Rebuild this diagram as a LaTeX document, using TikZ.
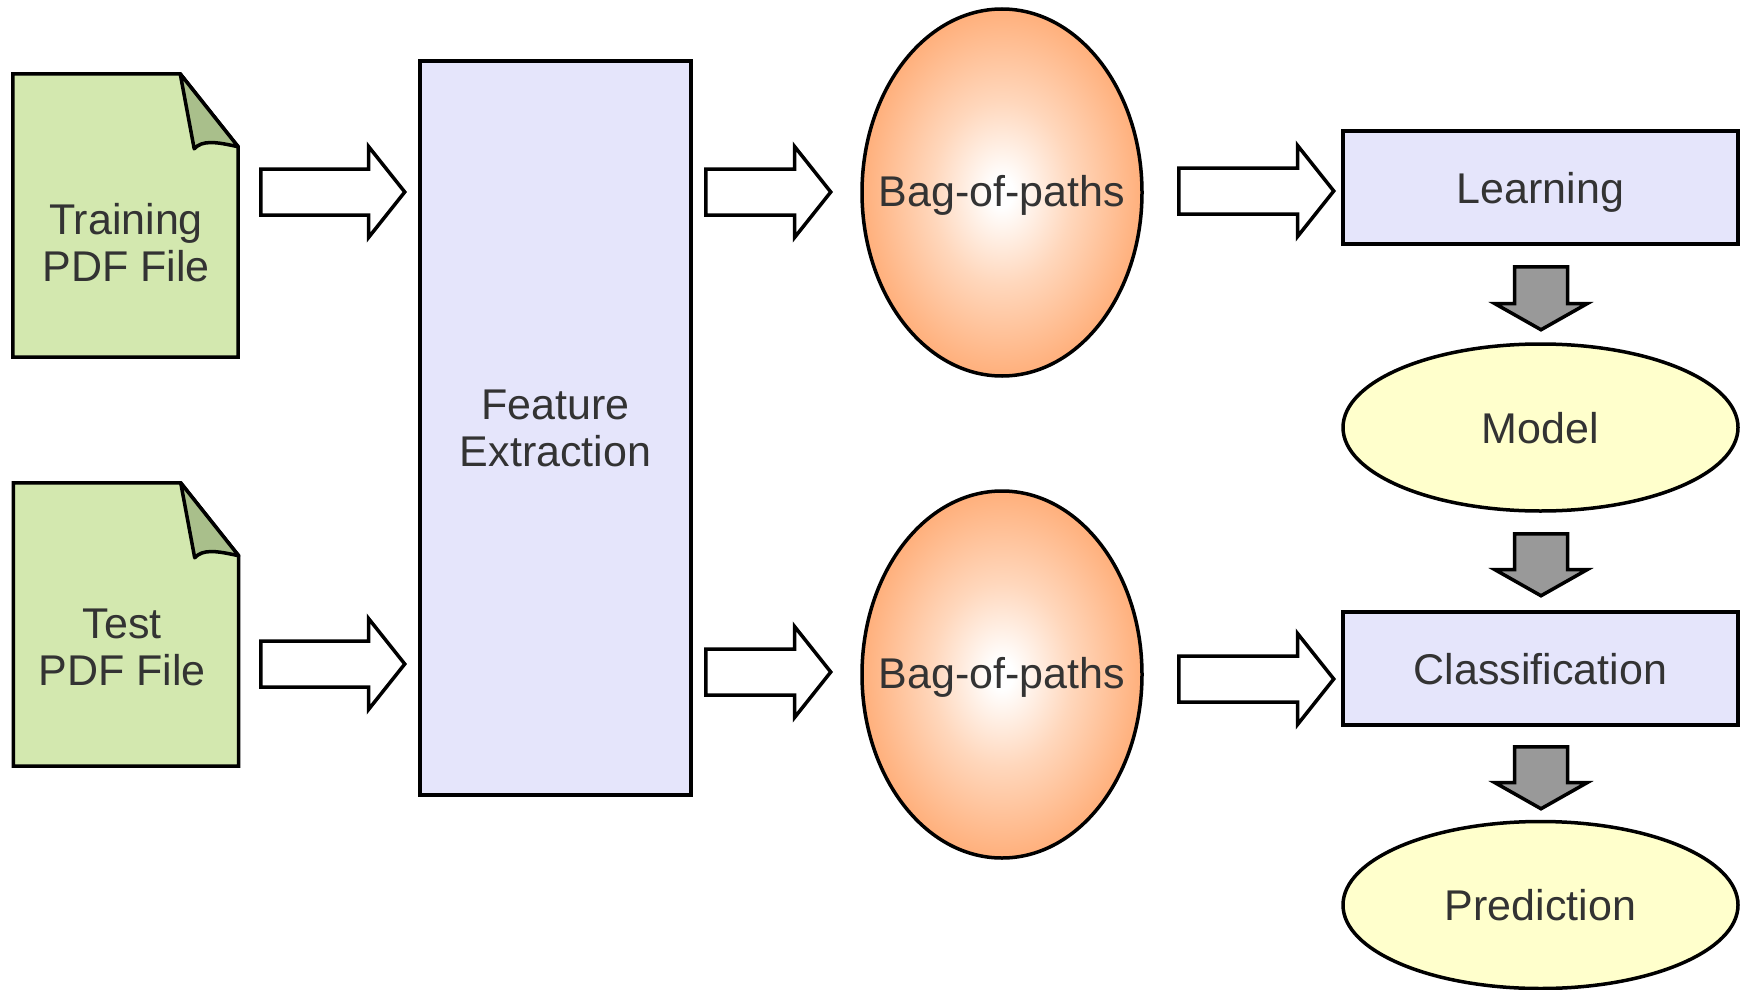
\documentclass[tikz,border=0pt]{standalone}
\usepackage{fontspec}
\setmainfont{Liberation Sans}
\usetikzlibrary{shapes.geometric,shapes.arrows,calc}
\definecolor{docgreen}{HTML}{D3E8AF}
\definecolor{foldgreen}{HTML}{A9BF8B}
\definecolor{lav}{HTML}{E5E5FB}
\definecolor{bagorange}{HTML}{FFA66C}
\definecolor{bagmid}{HTML}{FFD7BC}
\definecolor{modelyellow}{HTML}{FFFFCC}
\definecolor{arrowgray}{HTML}{999999}
\definecolor{txt}{HTML}{333333}
\pgfdeclareradialshading{bagshade}{\pgfpoint{0bp}{0bp}}{color(0bp)=(white); color(2bp)=(white); color(12.5bp)=(bagmid); color(28bp)=(bagorange); color(50bp)=(bagorange)}
\tikzset{
  lbl/.style={text=txt, font=\fontsize{43}{47}\selectfont, align=center, inner sep=0pt},
  caps/.style={text height=31pt, text depth=0pt},
  bagcaps/.style={text height=27pt, text depth=0pt},
  outl/.style={draw=black, line width=3.5pt},
  docbox/.style={rectangle, minimum width=225pt, minimum height=283pt, inner sep=0pt},
  rectbox/.style={rectangle, outl, fill=lav, inner sep=0pt, text=txt, font=\fontsize{43}{47}\selectfont, align=center},
  bagnode/.style={ellipse, outl, shading=bagshade, minimum width=280pt, minimum height=367pt, inner sep=0pt},
  resnode/.style={ellipse, outl, fill=modelyellow, minimum width=395pt, minimum height=167pt, inner sep=0pt},
  harrow/.style={single arrow, outl, fill=white, anchor=tail, inner sep=0pt, text height=42.5pt, text depth=0pt, text width=0pt, minimum height=#1, minimum width=87.5pt, single arrow head extend=22.5pt, single arrow tip angle=103, line join=miter},
  garrow/.style={single arrow, outl, fill=arrowgray, anchor=tail, rotate=-90, inner sep=0pt, text height=49.5pt, text depth=0pt, text width=0pt, minimum height=#1, minimum width=88.5pt, single arrow head extend=19.5pt, single arrow tip angle=121, line join=miter},
}
\begin{document}
\begin{tikzpicture}[x=1pt,y=-1pt]
\useasboundingbox (0,0) rectangle (1745,990);
% documents
\node[docbox] (train) at (125.5,215.5) {};
\node[docbox] (test) at (126,624.5) {};
\foreach \d in {train,test}{
  \filldraw[outl, fill=docgreen, line join=miter]
    (\d.south west) -- (\d.north west) -- ($(\d.north east)+(-58,0)$)
    -- ($(\d.north east)+(0,73)$) -- (\d.south east) -- cycle;
  \filldraw[outl, fill=foldgreen, line join=round]
    ($(\d.north east)+(-58,0)$) -- ($(\d.north east)+(-44,75)$)
    .. controls ($(\d.north east)+(-36,66)$) and ($(\d.north east)+(-22,68)$) .. ($(\d.north east)+(0,73)$) -- cycle;
}
\node[lbl] (trainlbl) at (126,243) {Training\\PDF File};
\node[lbl] (testlbl) at (122,647) {Test\\PDF File};
% feature extraction
\node[rectbox, minimum width=271pt, minimum height=734pt] (fe) at (555.5,428) {Feature\\Extraction};
% bags
\node[bagnode, label={[lbl,bagcaps]center:Bag-of-paths}] (bag1) at (1002,192.5) {};
\node[bagnode, label={[lbl,bagcaps]center:Bag-of-paths}] (bag2) at (1002,674.5) {};
% right column
\node[rectbox, caps, minimum width=395pt, minimum height=113pt] (learn) at (1540.5,187.5) {Learning};
\node[resnode, label={[lbl,caps]center:Model}] (model) at (1540.5,427.5) {};
\node[rectbox, caps, minimum width=395pt, minimum height=113pt] (classif) at (1540.5,668.5) {Classification};
\node[resnode, label={[lbl,caps]center:Prediction}] (pred) at (1540.5,905) {};
% hollow arrows
\node[harrow=144pt] (a1) at (259,192) {};
\node[harrow=144pt] (a2) at (259,664) {};
\node[harrow=125pt] (a3) at (704,192) {};
\node[harrow=125pt] (a4) at (704,672) {};
\node[harrow=155pt] (a5) at (1177,191) {};
\node[harrow=155pt] (a6) at (1177,679) {};
% gray arrows
\node[garrow=63pt] (g1) at (1541,265) {};
\node[garrow=62pt] (g2) at (1541,532) {};
\node[garrow=62pt] (g3) at (1541,745) {};
\end{tikzpicture}
\end{document}
